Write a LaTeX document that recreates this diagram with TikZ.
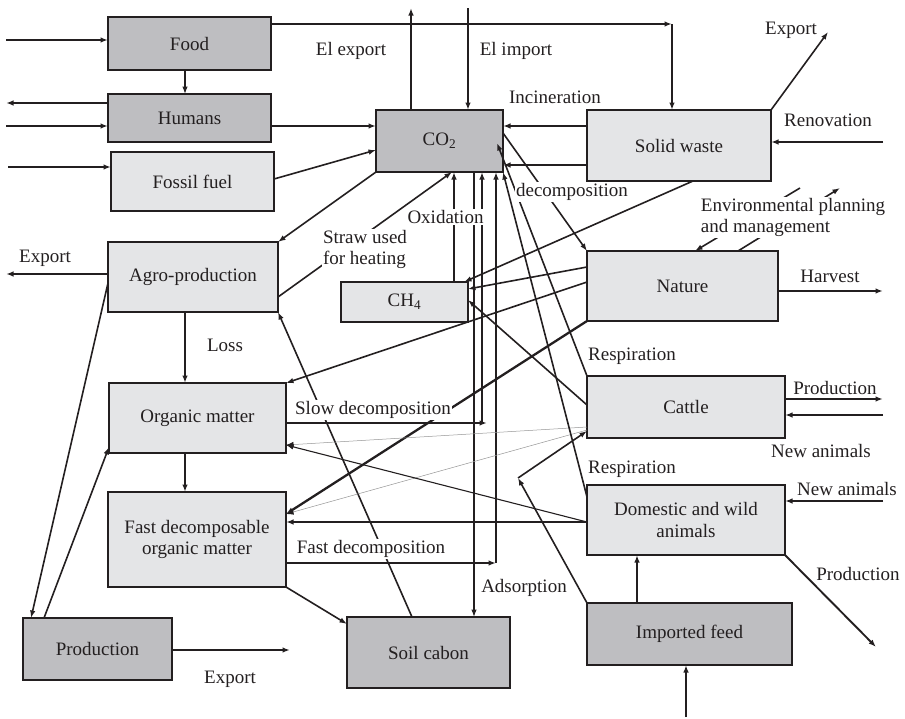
\documentclass[tikz,border=0pt]{standalone}
\usepackage{fontspec}
\setmainfont{Liberation Serif}
\usetikzlibrary{arrows.meta}
\definecolor{boxdark}{RGB}{190,190,193}
\definecolor{boxlight}{RGB}{228,229,231}
\definecolor{ink}{RGB}{35,31,32}
\definecolor{faint}{RGB}{150,150,150}

\begin{document}
\begin{tikzpicture}[x=1pt,y=-1pt,
  txt/.style={font=\fontsize{19}{21.5}\selectfont, text=ink},
  stock/.style={txt, draw=ink, line width=2pt, inner sep=0pt, outer sep=0pt, align=center},
  dark/.style={stock, fill=boxdark},
  light/.style={stock, fill=boxlight},
  tip/.style={-{Latex[length=7.5pt,width=5.5pt,color=ink]}},
  flow/.style={draw=ink, line width=1.6pt, tip},
  heavy/.style={flow, line width=2.3pt},
  slim/.style={flow, line width=1.1pt},
  hair/.style={draw=faint, line width=0.5pt, tip},
  lbl/.style={txt, fill=white, inner sep=1pt},
  note/.style={txt, inner sep=1pt},
]
\useasboundingbox (0,0) rectangle (905,718);

% ---- stocks ----
\node[dark,  minimum width=163pt, minimum height=53pt] (food)    at (189.5,43.5) {Food};
\node[dark,  minimum width=163pt, minimum height=48pt] (humans)  at (189.5,118)  {Humans};
\node[light, minimum width=163pt, minimum height=59pt] (fossil)  at (192.5,181.5){Fossil fuel};
\node[dark,  minimum width=127pt, minimum height=62pt] (co2)     at (439.5,141)  {CO\textsubscript{2}};
\node[light, minimum width=184pt, minimum height=71pt] (waste)   at (679,145.5)  {Solid waste};
\node[light, minimum width=170pt, minimum height=70pt] (agro)    at (193,277)    {Agro-production};
\node[light, minimum width=127pt, minimum height=40pt] (ch4)     at (404.5,302)  {CH\textsubscript{4}};
\node[light, minimum width=191pt, minimum height=70pt] (nature)  at (682.5,286)  {Nature};
\node[light, minimum width=177pt, minimum height=70pt] (organic) at (197.5,418)  {Organic matter};
\node[light, minimum width=198pt, minimum height=62pt] (cattle)  at (686,407)    {Cattle};
\node[light, minimum width=178pt, minimum height=95pt] (fastdec) at (197,539.5)  {Fast decomposable\\organic matter};
\node[light, minimum width=198pt, minimum height=70pt] (animals) at (686,520)    {Domestic and wild\\animals};
\node[dark,  minimum width=149pt, minimum height=62pt] (prod)    at (97.5,649)   {Production};
\node[dark,  minimum width=163pt, minimum height=71pt] (soil)    at (428.5,652.5){Soil cabon};
\node[dark,  minimum width=205pt, minimum height=62pt] (feed)    at (689.5,634)  {Imported feed};

% ---- free ends and junctions ----
\coordinate (inFood)  at (6,40);
\coordinate (outHum)  at (6,103);
\coordinate (inHum)   at (6,126);
\coordinate (inFos)   at (8,167);
\coordinate (bend)    at (672,24);
\coordinate (elOut)   at (411,8);
\coordinate (elIn)    at (468,8);
\coordinate (wExp)    at (828,32);
\coordinate (renov)   at (883,142);
\coordinate (envIn)   at (800,188);
\coordinate (envOut)  at (840,188);
\coordinate (harv)    at (883,291);
\coordinate (agroExp) at (6,274);
\coordinate (prodExp) at (290,650);
\coordinate (slowJ)   at (482,423);
\coordinate (fastJ)   at (496,563);
\coordinate (feedJ)   at (518,478);
\coordinate (feedIn)  at (686,717);
\coordinate (aProd)   at (876,647);
\coordinate (aNew)    at (883,501);
\coordinate (cProd)   at (883,399);
\coordinate (cNew)    at (883,415);
\coordinate (resp)    at (497,143);

% ---- flows: food, humans, fossil fuel ----
\draw[flow] (inFood) -- (food.west |- inFood);
\draw[slim] (food.south -| 185,0) -- (humans.north -| 185,0);
\draw[flow] (humans.west |- outHum) -- (outHum);
\draw[flow] (inHum) -- (humans.west |- inHum);
\draw[flow] (humans.east |- 0,126) -- (co2.west |- 0,126);
\draw[flow] (inFos) -- (fossil.west |- inFos);
\draw[flow] (fossil.east |- 0,179) -- (co2.west |- 0,150);
\draw[flow] (food.east |- bend) -- (bend);
\draw[flow] (bend) -- (waste.north -| bend);

% ---- electricity ----
\draw[flow] (co2.north -| elOut) -- (elOut);
\draw[flow] (elIn) -- (co2.north -| elIn);

% ---- solid waste ----
\draw[flow] (waste.west |- 0,126) -- (co2.east |- 0,126);
\draw[flow] (waste.west |- 0,165) -- (co2.east |- 0,165);
\draw[flow] (waste.north east) -- (wExp);
\draw[flow] (renov) -- (waste.east |- renov);
\draw[flow] (waste.south -| 693,0) -- ([xshift=-4pt]ch4.north east);
\draw[flow] (co2.east |- 0,133) -- (nature.north west);

% ---- nature ----
\draw[flow] (envIn) -- (nature.north -| 695,0);
\draw[flow] (nature.north -| 738,0) -- (envOut);
\draw[flow] (nature.east |- harv) -- (harv);
\draw[flow] (nature.west |- 0,267) -- (ch4.east |- 0,289);
\draw[flow] (nature.west |- 0,282) -- (organic.north east);
\draw[heavy] (nature.south west) -- (fastdec.east |- 0,514);

% ---- agriculture ----
\draw[flow] (co2.south west) -- (agro.north east);
\draw[flow] (agro.east |- 0,297) -- (co2.south -| 452,0);
\draw[flow] (agro.west |- agroExp) -- (agroExp);
\draw[flow] (agro.south -| 185,0) -- (organic.north -| 185,0);
\draw[flow] (agro.west |- 0,283) -- (prod.north -| 31,0);
\draw[flow] (prod.north -| 44,0) -- (organic.west |- 0,447);
\draw[flow] (prod.east |- prodExp) -- (prodExp);

% ---- methane and carbon pools ----
\draw[flow] (ch4.north -| 454,0) -- (co2.south -| 454,0);
\draw[slim] (co2.south -| 474,0) -- (soil.north -| 474,0);
\draw[heavy] (organic.east |- slowJ) -- ([xshift=5pt]slowJ);
\draw[flow] (slowJ) -- (co2.south -| slowJ);
\draw[heavy] (fastdec.east |- fastJ) -- (fastJ);
\draw[heavy] (fastJ) -- (co2.south -| fastJ);
\draw[flow] (organic.south -| 185,0) -- (fastdec.north -| 185,0);
\draw[flow] (fastdec.south east) -- ([yshift=-7pt]soil.north west);
\draw[flow] (soil.north -| 412,0) -- (agro.south east);

% ---- cattle ----
\draw[flow] (cattle.north west) -- (resp);
\draw[flow] (cattle.west |- 0,405) -- (ch4.east |- 0,300);
\draw[hair] (cattle.west |- 0,427) -- (organic.east |- 0,445);
\draw[hair] (cattle.west |- 0,430) -- (fastdec.east |- 0,514);
\draw[flow] (cattle.east |- cProd) -- (cProd);
\draw[flow] (cNew) -- (cattle.east |- cNew);

% ---- domestic and wild animals ----
\draw[flow] (animals.west |- 0,497) -- (co2.south east);
\draw[slim] (animals.west |- 0,522) -- (organic.east |- 0,445);
\draw[heavy] (animals.west |- 0,522) -- (fastdec.east |- 0,522);
\draw[flow, line width=1.9pt] (animals.south east) -- (aProd);
\draw[flow] (aNew) -- (animals.east |- aNew);

% ---- imported feed ----
\draw[flow] (feed.north west) -- (feedJ);
\draw[flow] (feedJ) -- (cattle.west |- 0,431);
\draw[flow] (feed.north -| 637,0) -- (animals.south -| 637,0);
\draw[flow] (feedIn) -- (feed.south -| feedIn);

% ---- flow labels ----
\node[note] (lElExp)  at (351,51)   {El export};
\node[note] (lElImp)  at (516,51)   {El import};
\node[note] (lInc)    at (555,97)   {Incineration};
\node[note] (lWExp)   at (791,30)   {Export};
\node[note] (lRen)    at (828,120)  {Renovation};
\node[lbl]  (lDec)    at (572,192)  {decomposition};
\node[lbl, align=left] (lEnv) at (793,217.5) {Environmental planning\\and management};
\node[note] (lHarv)   at (830,276)  {Harvest};
\node[lbl, align=left] (lStraw) at (365,249.5) {Straw used\\for heating};
\node[lbl]  (lOx)     at (445.5,217){Oxidation};
\node[note] (lAExp)   at (45,258)   {Export};
\node[note] (lLoss)   at (225,345)  {Loss};
\node[lbl]  (lSlow)   at (373,410)  {Slow decomposition};
\node[lbl]  (lFast)   at (371,549)  {Fast decomposition};
\node[note] (lResp1)  at (632,356)  {Respiration};
\node[note] (lResp2)  at (632,469)  {Respiration};
\node[note] (lCProd)  at (835,388)  {Production};
\node[note] (lCNew)   at (821,451)  {New animals};
\node[note] (lANew)   at (847,489)  {New animals};
\node[note] (lAProd)  at (858,574)  {Production};
\node[note] (lAds)    at (524,588)  {Adsorption};
\node[note] (lPExp)   at (230,679)  {Export};
\end{tikzpicture}
\end{document}
